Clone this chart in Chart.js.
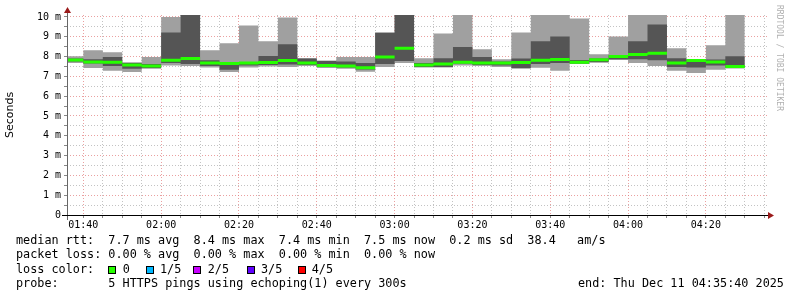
<!DOCTYPE html>
<html>
<head>
<meta charset="utf-8">
<script src="https://cdn.jsdelivr.net/npm/chart.js@4"></script>
<style>
  body { margin: 0; background: #fff; }
  #wrap { position: relative; width: 797px; height: 297px; overflow: hidden; }
  #legend { position: absolute; left: 16px; top: 233px; font: 11.8px "DejaVu Sans Mono"; line-height: 14.3px; color: #000; }
  .row { position: relative; height: 14.3px; white-space: pre; }
  .box { position: absolute; top: 4px; width: 6px; height: 6px; border: 1px solid #000; }
  .lbl { position: absolute; top: 0; }
</style>
</head>
<body>
<div id="wrap">
  <canvas id="rttChart" width="797" height="297"></canvas>
  <div id="legend">
    <div class="row">median rtt:  7.7 ms avg  8.4 ms max  7.4 ms min  7.5 ms now  0.2 ms sd  38.4   am/s</div>
    <div class="row">packet loss: 0.00 % avg  0.00 % max  0.00 % min  0.00 % now</div>
    <div class="row" id="lossRow">loss color:</div>
    <div class="row">probe:       5 HTTPS pings using echoping(1) every 300s<span class="lbl" style="left:562px">end: Thu Dec 11 04:35:40 2025</span></div>
  </div>
</div>
<script>
// fin de cada intervalo de 5 minutos (el primero es parcial)
const slots = ["01:40","01:45","01:50","01:55","02:00","02:05","02:10","02:15","02:20","02:25",
  "02:30","02:35","02:40","02:45","02:50","02:55","03:00","03:05","03:10","03:15",
  "03:20","03:25","03:30","03:35","03:40","03:45","03:50","03:55","04:00","04:05",
  "04:10","04:15","04:20","04:25","04:30"];

// los 5 pings ordenados, en ms
const minRtt = [7.68,7.42,7.28,7.22,7.38,7.55,7.52,7.45,7.22,7.45,7.50,7.48,7.52,7.42,7.38,7.23,7.48,7.68,7.45,7.45,
  7.55,7.52,7.48,7.38,7.43,7.28,7.62,7.70,7.83,7.67,7.53,7.28,7.17,7.33,7.40];
const ping2 = [7.75,7.65,7.52,7.38,7.42,7.68,7.62,7.52,7.33,7.55,7.58,7.60,7.58,7.48,7.45,7.35,7.62,7.78,7.48,7.48,
  7.65,7.58,7.55,7.42,7.62,7.67,7.65,7.72,7.87,7.87,7.82,7.48,7.45,7.55,7.45];
const median = [7.83,7.73,7.72,7.57,7.52,7.82,7.90,7.68,7.65,7.67,7.70,7.80,7.68,7.55,7.52,7.43,7.98,8.42,7.57,7.62,
  7.72,7.68,7.68,7.70,7.82,7.85,7.72,7.84,8.00,8.10,8.17,7.68,7.80,7.73,7.50];
const ping4 = [7.90,7.87,7.98,7.67,7.62,9.22,10.3,7.82,7.72,7.72,8.03,8.62,7.90,7.78,7.75,7.67,9.20,10.4,7.68,7.92,
  8.48,7.98,7.75,7.90,8.77,9.02,7.83,7.90,8.07,8.77,9.62,7.92,7.85,7.85,8.02];
const maxRtt = [8.02,8.32,8.22,7.72,7.98,10.0,10.6,8.32,8.67,9.57,8.77,9.98,7.92,7.80,7.98,7.98,9.22,10.6,7.92,9.17,
  10.6,8.37,7.87,9.22,10.6,10.6,9.92,8.12,9.02,10.6,10.6,8.42,7.87,8.57,10.6];

const yTicks = [0,1,2,3,4,5,6,7,8,9,10];
const lossColors = [["0","#26ff00"],["1/5","#00b8ff"],["2/5","#c800ff"],["3/5","#6000ff"],["4/5","#ff0000"]];

const X_MIN = 95.8, X_MAX = 275.97;

function toMin(s) {
  const [h, m] = s.split(":").map(Number);
  return h * 60 + m;
}
function fmt(v) {
  const h = Math.floor(v / 60), m = Math.round(v % 60);
  return String(h).padStart(2, "0") + ":" + String(m).padStart(2, "0");
}
function slotStart(i) {
  return i === 0 ? X_MIN : toMin(slots[i - 1]);
}
// cada valor cubre desde el inicio del intervalo hasta su fin
function steps(vals) {
  const pts = vals.map((v, i) => ({ x: slotStart(i), y: v }));
  pts.push({ x: toMin(slots[slots.length - 1]), y: vals[vals.length - 1] });
  return pts;
}
// la mediana solo lleva trazos horizontales, sin uniones verticales
function flats(vals) {
  const pts = [];
  vals.forEach((v, i) => {
    pts.push({ x: slotStart(i), y: v }, { x: toMin(slots[i]), y: v }, { x: toMin(slots[i]), y: null });
  });
  return pts;
}

// leyenda de colores de pérdida
const lossRow = document.getElementById("lossRow");
const boxX = [92.3, 129.7, 177.3, 230.7, 281.7];
const lblX = [106.7, 144, 191.7, 245, 295.7];
lossColors.forEach(([txt, col], i) => {
  const b = document.createElement("span");
  b.className = "box"; b.style.left = boxX[i] + "px"; b.style.background = col;
  const l = document.createElement("span");
  l.className = "lbl"; l.style.left = lblX[i] + "px"; l.textContent = txt;
  lossRow.appendChild(b); lossRow.appendChild(l);
});

const base = { pointRadius: 0, borderWidth: 0, stepped: true, fill: false };

const decor = {
  id: "decor",
  afterDraw(chart) {
    const { ctx, chartArea: a } = chart;
    ctx.save();
    ctx.lineWidth = 1;
    ctx.strokeStyle = "#666";
    ctx.beginPath(); ctx.moveTo(a.left + 0.5, a.bottom + 5); ctx.lineTo(a.left + 0.5, a.top - 4); ctx.stroke();
    ctx.strokeStyle = "#000";
    ctx.beginPath(); ctx.moveTo(a.left - 5, a.bottom + 0.5); ctx.lineTo(a.right + 2, a.bottom + 0.5); ctx.stroke();
    ctx.fillStyle = "#9b1b1b";
    ctx.beginPath(); ctx.moveTo(a.left + 0.5, a.top - 8); ctx.lineTo(a.left - 3, a.top - 2); ctx.lineTo(a.left + 4, a.top - 2); ctx.fill();
    ctx.beginPath(); ctx.moveTo(a.right + 6, a.bottom + 0.5); ctx.lineTo(a.right, a.bottom - 3); ctx.lineTo(a.right, a.bottom + 4); ctx.fill();
    ctx.translate(783, 5);
    ctx.rotate(Math.PI / 2);
    ctx.fillStyle = "#b0b0b0";
    ctx.font = "8px 'DejaVu Sans Mono'";
    ctx.textBaseline = "top";
    ctx.fillText("RRDTOOL / TOBI OETIKER", 0, 0);
    ctx.restore();
  }
};

new Chart(document.getElementById("rttChart"), {
  type: "line",
  data: {
    datasets: [
      { ...base, data: steps(maxRtt), order: 3 },
      { ...base, data: steps(minRtt), order: 3, fill: 0, backgroundColor: "#a0a0a0" },
      { ...base, data: steps(ping4), order: 2 },
      { ...base, data: steps(ping2), order: 2, fill: 2, backgroundColor: "#555555" },
      { pointRadius: 0, fill: false, stepped: false, spanGaps: false, data: flats(median), order: 1,
        borderWidth: 3, borderColor: "#26ff00", borderCapStyle: "butt" }
    ]
  },
  options: {
    responsive: false,
    animation: false,
    devicePixelRatio: 1,
    layout: { padding: { top: 15, right: 29, bottom: 0, left: 0 } },
    plugins: { legend: { display: false }, tooltip: { enabled: false } },
    scales: {
      x: {
        type: "linear", min: X_MIN, max: X_MAX, z: 1,
        afterBuildTicks: s => {
          const t = [];
          for (let v = 100; v <= 275; v += 5) t.push({ value: v });
          s.ticks = t;
        },
        afterFit: s => { s.height = 82; },
        ticks: {
          autoSkip: false, maxRotation: 0, padding: 1, color: "#000",
          font: { family: "DejaVu Sans Mono", size: 10 },
          callback: v => (v % 20 === 0 ? fmt(v) : "")
        },
        grid: {
          lineWidth: 1, tickLength: 3, tickColor: "#888",
          color: c => (c.tick && c.tick.value % 20 === 0 ? "rgba(225,120,120,0.7)" : "rgba(180,180,180,0.8)")
        },
        border: { display: false, dash: [1, 2] }
      },
      y: {
        min: 0, max: 10.1, z: 1,
        afterBuildTicks: s => {
          const t = [];
          yTicks.forEach(v => { t.push({ value: v }); if (v < 10) t.push({ value: v + 0.5 }); });
          s.ticks = t;
        },
        afterFit: s => { s.width = 67; },
        ticks: {
          autoSkip: false, padding: 3, color: "#000",
          font: { family: "DejaVu Sans Mono", size: 10 },
          callback: v => (Number.isInteger(v) ? (v === 0 ? "0" : v + " m") : "")
        },
        grid: {
          lineWidth: 1, tickLength: 3, tickColor: "#888",
          color: c => (c.tick && Number.isInteger(c.tick.value) ? "rgba(225,120,120,0.7)" : "rgba(180,180,180,0.8)")
        },
        border: { display: false, dash: [1, 2] },
        title: { display: true, text: "Seconds", color: "#000", font: { family: "DejaVu Sans", size: 11 }, padding: { top: 4, bottom: 0 } }
      }
    }
  },
  plugins: [decor]
});
</script>
</body>
</html>
